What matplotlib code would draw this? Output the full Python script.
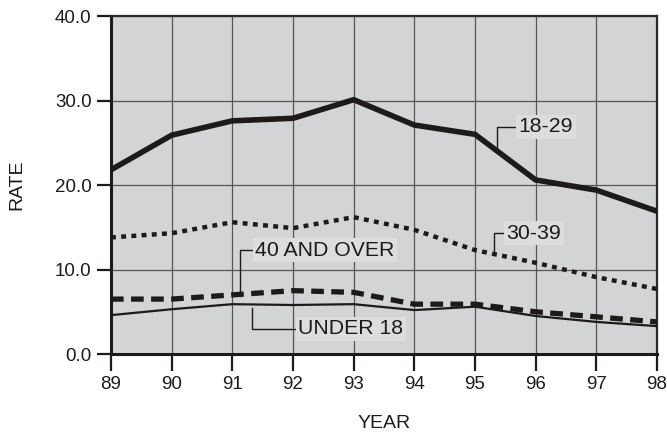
import matplotlib
matplotlib.use("Agg")
import matplotlib.pyplot as plt

years = [89, 90, 91, 92, 93, 94, 95, 96, 97, 98]
year_labels = ["89", "90", "91", "92", "93", "94", "95", "96", "97", "98"]
rate_18_29 = [21.8, 25.9, 27.6, 27.9, 30.1, 27.1, 26.0, 20.6, 19.4, 16.9]
rate_30_39 = [13.8, 14.3, 15.6, 14.9, 16.2, 14.7, 12.3, 10.8, 9.1, 7.7]
rate_40_over = [6.5, 6.5, 7.0, 7.5, 7.3, 5.9, 5.9, 5.0, 4.4, 3.8]
rate_under18 = [4.6, 5.3, 5.9, 5.8, 5.9, 5.2, 5.6, 4.5, 3.8, 3.3]
y_ticks = [0, 10, 20, 30, 40]
y_tick_labels = ["0.0", "10.0", "20.0", "30.0", "40.0"]

plt.rcParams['font.family'] = ['Liberation Sans', 'DejaVu Sans']

fig = plt.figure(figsize=(6.67, 4.34), dpi=100)
ax = fig.add_axes([0.1664, 0.1843, 0.8186, 0.7787])
ax.set_facecolor('#d3d4d6')

ax.plot(years, rate_18_29, color='#1e1a1a', lw=4.0, solid_joinstyle='miter', zorder=5)
ax.plot(years, rate_30_39, color='#1e1a1a', lw=3.2, dashes=(1.1, 1.2), zorder=5)
ax.plot(years, rate_40_over, color='#1e1a1a', lw=3.8, dashes=(2.4, 1.4), zorder=5)
ax.plot(years, rate_under18, color='#1e1a1a', lw=1.6, zorder=5)

ax.set_xlim(89, 98)
ax.set_ylim(0, 40)
ax.set_xticks(years)
ax.set_xticklabels(year_labels)
ax.set_yticks(y_ticks)
ax.set_yticklabels(y_tick_labels)
ax.grid(True, color='#555555', lw=0.9, zorder=1)
ax.set_axisbelow(True)
ax.tick_params(axis='both', direction='out', width=1.6, color='#1e1a1a',
               labelsize=13.5, labelcolor='#1e1a1a')
ax.tick_params(axis='y', length=10, pad=4)
ax.tick_params(axis='x', length=12.5, pad=3)
for s in ['left', 'bottom']:
    ax.spines[s].set_linewidth(2.2)
    ax.spines[s].set_color('#1e1a1a')
for s in ['top', 'right']:
    ax.spines[s].set_linewidth(1.6)
    ax.spines[s].set_color('#2a2a2a')

ax.set_xlabel("YEAR", fontsize=14, color='#1e1a1a', labelpad=16)
ax.set_ylabel("RATE", fontsize=14, color='#1e1a1a', labelpad=21)

box = dict(boxstyle='square,pad=0.12', fc='#dddddd', ec='none')
labels = [
    ("18-29", 95.71, 26.9, 95.36, 23.9),
    ("30-39", 95.51, 14.3, 95.31, 12.0),
    ("40 AND OVER", 91.37, 12.3, 91.13, 6.9),
    ("UNDER 18", 92.08, 3.0, 91.32, 5.4),
]
for text, tx, ty, cx, ey in labels:
    ax.plot([tx, cx, cx], [ty, ty, ey], color='#1e1a1a', lw=1.0, zorder=6)
    ax.text(tx + 0.01, ty, text, fontsize=15.3, color='#1e1a1a', va='center', ha='left',
            bbox=box, zorder=7)

fig.savefig("out.png", dpi=100)
